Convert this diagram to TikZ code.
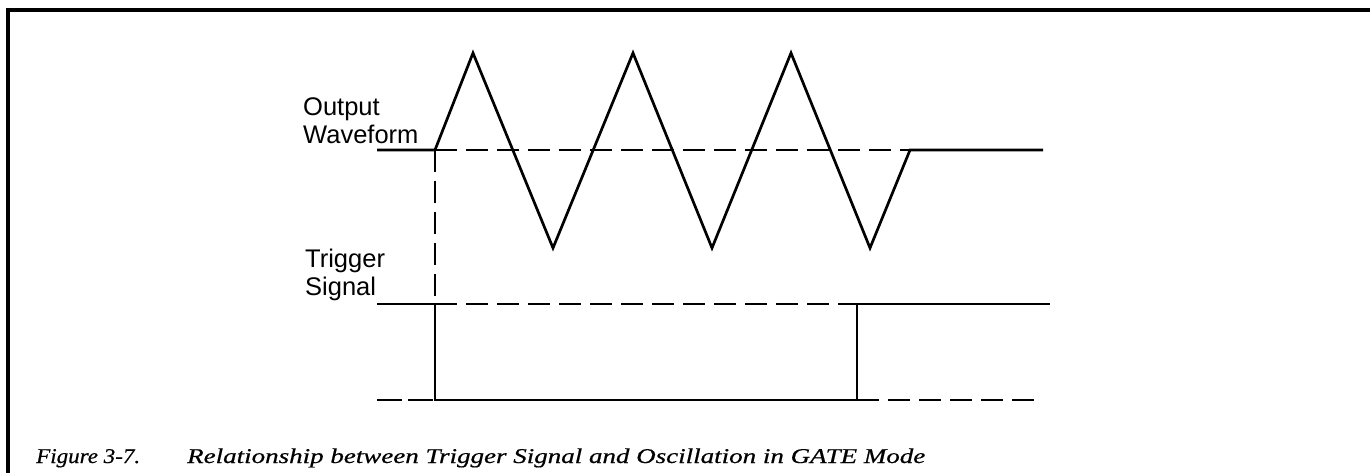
\documentclass[tikz,border=0pt]{standalone}
\usepackage{fontspec}
\usepackage{graphicx}
\newfontfamily\labelfont{Liberation Sans}
\newfontfamily\capserif[FakeBold=0.5]{Liberation Serif}
\newcommand\capfont{\capserif\itshape\fontsize{21}{24}\selectfont}
\begin{document}
\begin{tikzpicture}[x=1pt,y=-1pt,
  wave/.style={line width=2.7pt, line join=miter},
  guide/.style={line width=2pt, dash pattern=on 22pt off 9pt},
  frameline/.style={line width=3.5pt},
  lbl/.style={font=\labelfont\fontsize{25.5}{28}\selectfont, align=left, inner sep=0pt, anchor=base west},
  captionstyle/.style={inner sep=0pt, anchor=base west}]
\useasboundingbox (0,0) rectangle (1370,473);
\fill[white] (0,0) rectangle (1370,473);
\draw[frameline] (8,473) -- (8,10) -- (1370,10);
% output waveform
\coordinate (oL) at (377,150);
\coordinate (o0) at (435,150);
\coordinate (p1) at (473,53);
\coordinate (v1) at (553,248);
\coordinate (p2) at (633,53);
\coordinate (v2) at (712,248);
\coordinate (p3) at (791,53);
\coordinate (v3) at (870,248);
\coordinate (oE) at (910,150);
\coordinate (oR) at (1043,150);
% trigger signal
\coordinate (tL) at (377,304);
\coordinate (t0) at (435,304);
\coordinate (b0) at (435,400);
\coordinate (bL) at (377,400);
\coordinate (b1) at (857,400);
\coordinate (t1) at (857,304);
\coordinate (tR) at (1050,304);
\coordinate (bR) at (1042,400);
\draw[wave] (oL) -- (o0) -- (p1) -- (v1) -- (p2) -- (v2) -- (p3) -- (v3) -- (oE) -- (oR);
\draw[guide] (o0) -- (oE);
\draw[guide] (o0) -- (t0);
\draw[wave] (tL) -- (t0) -- (b0) -- (b1) -- (t1) -- (tR);
\draw[guide] (t0) -- (t1);
\draw[guide, dash pattern=on 25pt off 6pt] (bL) -- (b0);
\draw[guide] (b1) -- (bR);
% labels (anchor at baseline of last line)
\node[lbl] (outlbl) at (303,144) {Output\\Waveform};
\node[lbl] (trglbl) at (305,295) {Trigger\\Signal};
% caption
\node[captionstyle] (fignum) at (36,463) {\resizebox{104pt}{\height}{\capfont Figure 3-7.}};
\node[captionstyle] (captext) at (187,463) {\resizebox{738pt}{\height}{\capfont Relationship between Trigger Signal and Oscillation in GATE Mode}};
\end{tikzpicture}
\end{document}
